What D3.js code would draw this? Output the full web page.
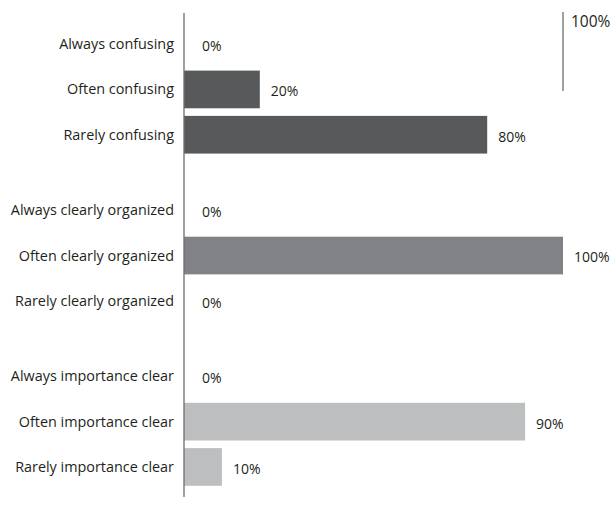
<!DOCTYPE html>
<html>
<head>
<meta charset="utf-8">
<script src="https://cdn.jsdelivr.net/npm/d3@7"></script>
<style>
html,body{margin:0;padding:0;background:#fff;}
svg{display:block;}
text{font-family:"Open Sans","Noto Sans",sans-serif;fill:#231f20;}
</style>
</head>
<body>
<svg id="chart" width="613" height="507"></svg>
<script>
const groups = ["confusing", "clearly organized", "importance clear"];
const levels = ["Always", "Often", "Rarely"];
const valuesConfusing = [0, 0.20, 0.80];
const valuesOrganized = [0, 1.00, 0];
const valuesImportance = [0, 0.90, 0.10];
const groupColors = ["#58595b", "#808285", "#bcbec0"];
const refValue = 1.0;
const refLabel = "100%";

const seriesValues = [valuesConfusing, valuesOrganized, valuesImportance];
const data = [];
groups.forEach((g, gi) => {
  levels.forEach((l, li) => {
    data.push({group: g, level: l, label: l + " " + g, value: seriesValues[gi][li], color: groupColors[gi]});
  });
});

const svg = d3.select("#chart");
const x = d3.scaleLinear().domain([0, 1]).range([184, 563]);
const gy = d3.scaleBand().domain(groups).range([21.5, 489.6]).paddingInner(0.182).paddingOuter(0);
const iy = d3.scaleBand().domain(levels).range([0, gy.bandwidth()]).paddingInner(0.168).paddingOuter(0.084);
const yPos = d => gy(d.group) + iy(d.level);
const fmt = d3.format(".0%");

// bars
svg.append("g").selectAll("rect").data(data).join("rect")
  .attr("x", x(0))
  .attr("y", d => yPos(d))
  .attr("width", d => x(d.value) - x(0))
  .attr("height", iy.bandwidth())
  .attr("fill", d => d.color);

// category labels
svg.append("g").selectAll("text").data(data).join("text")
  .attr("x", 174)
  .attr("y", d => yPos(d) + iy.bandwidth() / 2)
  .attr("dy", "0.35em")
  .attr("text-anchor", "end")
  .style("font-size", "14.4px")
  .text(d => d.label);

// value labels
svg.append("g").selectAll("text").data(data).join("text")
  .attr("x", d => x(d.value) + (d.value === 0 ? 18 : 11))
  .attr("y", d => yPos(d) + iy.bandwidth() / 2 + 2)
  .attr("dy", "0.35em")
  .style("font-size", "14px")
  .text(d => fmt(d.value));

// axis line
svg.append("line")
  .attr("x1", x(0)).attr("x2", x(0))
  .attr("y1", 13).attr("y2", 497)
  .attr("stroke", "#6d6e71").attr("stroke-width", 1.3);

// reference line
svg.append("line")
  .attr("x1", x(refValue)).attr("x2", x(refValue))
  .attr("y1", 12).attr("y2", 91)
  .attr("stroke", "#6d6e71").attr("stroke-width", 1.3);
svg.append("text")
  .attr("x", x(refValue) + 8)
  .attr("y", 27)
  .style("font-size", "15.5px")
  .text(refLabel);
</script>
</body>
</html>
